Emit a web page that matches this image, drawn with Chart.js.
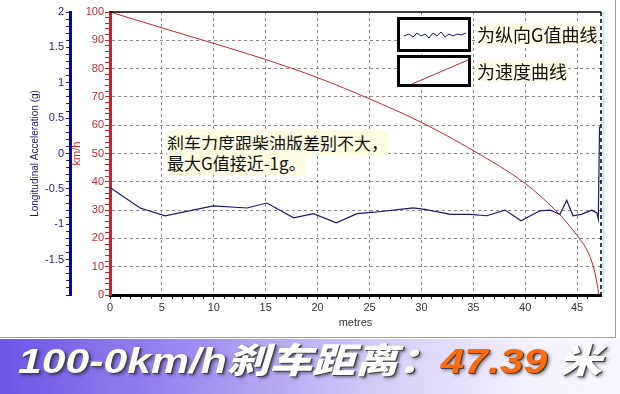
<!DOCTYPE html>
<html>
<head>
<meta charset="utf-8">
<script src="https://cdn.jsdelivr.net/npm/chart.js@4"></script>
<style>
body { margin: 0; background: #fff; width: 620px; height: 394px; overflow: hidden; position: relative; font-family: "Liberation Sans", Arial, sans-serif; }
#wrap { position: absolute; left: 0; top: 0; width: 620px; height: 338px; }
#frame { position: absolute; left: 0; top: 0; width: 615px; height: 337px; border-right: 1px solid #a0a0a0; border-bottom: 1px solid #a0a0a0; pointer-events: none; }
.box { position: absolute; left: 397px; width: 68px; border: 3px solid #000; background: #fff; }
.box svg { display: block; }
.lgtext { position: absolute; left: 477px; font: 18px "Noto Sans CJK SC", sans-serif; line-height: 22px; color: #111; background: #fffbe4; }
#note { position: absolute; left: 167px; top: 133px; font: 17px "Noto Sans CJK SC", sans-serif; line-height: 20px; color: #111; }
#note span { background: #fdfbe2; }
#banner { position: absolute; left: 0; top: 339px; width: 620px; height: 55px; background: linear-gradient(to right, #6d55e6 0%, #9d8af0 30%, #d2cbf8 60%, #f3f1fe 85%, #f8f7ff 100%); overflow: hidden; }
#banner .t { position: absolute; left: 18px; top: -7px; line-height: 50px; white-space: nowrap; font: italic 900 35px "Liberation Sans", "Noto Sans CJK SC", sans-serif; color: #fff; text-shadow: 1px 1px 0 #444, 2px 2px 3px rgba(0,0,0,0.5); transform: scaleX(1.22); transform-origin: left center; }
#banner .num { color: #ff6a0a; }
</style>
</head>
<body>
<div id="wrap"><canvas id="brakeChart" width="620" height="338"></canvas></div>
<div id="frame"></div>

<div class="box" style="top:17px;height:29px;">
  <svg width="68" height="29"><polyline fill="none" stroke="#1a1a70" stroke-width="1" points="4,16 9,14 13,17 17,13 21,16 25,14 29,18 33,13 37,16 41,12 45,17 49,14 53,16 57,14 61,15 66,13"/></svg>
</div>
<div class="lgtext" style="top:23px;">为纵向G值曲线</div>
<div class="box" style="top:55px;height:26px;">
  <svg width="68" height="26"><line x1="12" y1="26" x2="68" y2="2" stroke="#c8262e" stroke-width="1"/></svg>
</div>
<div class="lgtext" style="top:60px;">为速度曲线</div>

<div id="note"><span>刹车力度跟柴油版差别不大，</span><br><span>最大G值接近-1g。</span></div>

<div id="banner"><span class="t">100-0km/h刹车距离：<span class="num">47.39</span> 米</span></div>

<script>
// longitudinal G trace (distance in metres, value in g)
const gDistance = [0, 2.9, 5.3, 9.95, 13.2, 15.1, 17.7, 19.6, 21.8, 23.8, 25.4, 27.3, 29.2, 30.35, 32.8, 34.7, 36.3, 38.05, 39.6, 41.4, 42.4, 43.35, 44.0, 44.6, 45.4, 46.4, 46.9, 47.04, 47.16];
const gValues = [-0.48, -0.77, -0.88, -0.74, -0.77, -0.70, -0.91, -0.85, -0.98, -0.85, -0.83, -0.80, -0.77, -0.79, -0.86, -0.86, -0.88, -0.80, -0.95, -0.81, -0.80, -0.86, -0.66, -0.88, -0.86, -0.80, -0.84, -0.93, 0.38];

// speed trace (distance in metres, km/h)
const speedDistance = [0, 5, 10, 15, 20, 25, 30, 35, 40, 42.9, 44, 45, 46, 46.56, 46.9, 47.1];
const speedValues = [100, 94.4, 88.9, 83.2, 76.8, 69.3, 61.0, 51.0, 39.4, 30, 25.6, 21, 15.5, 10, 4.5, 0];

const xMax = 47.3;

const isHalf = v => Math.abs(v * 2 - Math.round(v * 2)) < 1e-6;
const isMult = (v, n) => Math.abs(v / n - Math.round(v / n)) < 1e-6;

const gridGray = '#8c8c8c';
const clear = 'rgba(0,0,0,0)';
const red = '#c0282e';
const navy = '#1c1c78';

// top border + dashed right edge like the original plot
const framePlugin = {
    id: 'frame',
    afterDraw(chart) {
        const { ctx, chartArea: a } = chart;
        ctx.save();
        ctx.strokeStyle = '#000';
        ctx.lineWidth = 1.5;
        ctx.beginPath();
        ctx.moveTo(a.left, a.top);
        ctx.lineTo(a.right, a.top);
        ctx.stroke();
        ctx.setLineDash([4, 3]);
        ctx.beginPath();
        ctx.moveTo(a.right, a.top);
        ctx.lineTo(a.right, a.bottom);
        ctx.stroke();
        ctx.setLineDash([]);
        ctx.strokeStyle = '#bdeff4';
        ctx.lineWidth = 2;
        ctx.beginPath();
        ctx.moveTo(a.right + 2.5, a.top);
        ctx.lineTo(a.right + 2.5, a.bottom);
        ctx.stroke();
        ctx.restore();
    }
};

const ctx = document.getElementById('brakeChart').getContext('2d');
new Chart(ctx, {
    type: 'line',
    data: {
        datasets: [{
            label: 'G',
            data: gDistance.map((d, i) => ({ x: d, y: gValues[i] })),
            yAxisID: 'g',
            borderColor: '#1a1a70',
            borderWidth: 1.2,
            pointRadius: 0,
            tension: 0
        }, {
            label: 'speed',
            data: speedDistance.map((d, i) => ({ x: d, y: speedValues[i] })),
            yAxisID: 'v',
            borderColor: '#c8262e',
            borderWidth: 1,
            pointRadius: 0,
            cubicInterpolationMode: 'monotone'
        }]
    },
    options: {
        responsive: false,
        animation: false,
        layout: { padding: { left: 0, right: 19, top: 12, bottom: 0 } },
        plugins: { legend: { display: false }, tooltip: { enabled: false } },
        scales: {
            x: {
                type: 'linear',
                position: 'bottom',
                min: 0,
                max: xMax,
                ticks: {
                    stepSize: 1,
                    autoSkip: false,
                    maxRotation: 0,
                    color: '#333',
                    font: { size: 11 },
                    padding: 2,
                    callback: v => isMult(v, 5) ? Math.round(v) : ''
                },
                grid: {
                    color: c => (c.tick && isMult(c.tick.value, 5) && c.tick.value > 0) ? gridGray : clear,
                    tickColor: c => (c.tick && c.tick.value < xMax) ? '#222' : clear,
                    tickLength: 4,
                    tickBorderDash: []
                },
                border: { color: '#000', width: 3, dash: [3, 3] },
                title: { display: true, text: 'metres', color: '#333', font: { size: 11 }, padding: { top: 0, bottom: 8 } },
                afterFit: s => { s.height = 43; }
            },
            v: {
                position: 'left',
                weight: 0,
                min: 0,
                max: 100,
                ticks: {
                    stepSize: 2,
                    autoSkip: false,
                    color: red,
                    font: { size: 11 },
                    padding: 1,
                    callback: v => isMult(v, 10) ? v : ''
                },
                grid: {
                    color: c => (c.tick && isMult(c.tick.value, 10) && c.tick.value > 0 && c.tick.value < 100) ? gridGray : clear,
                    tickColor: red,
                    tickLength: 5,
                    tickBorderDash: []
                },
                border: { color: red, width: 3, dash: [3, 3] },
                title: { display: true, text: 'km/h', color: red, font: { size: 11 }, padding: 0 },
                afterFit: s => { s.width = 40; }
            },
            g: {
                position: 'left',
                weight: 1,
                min: -2,
                max: 2,
                ticks: {
                    stepSize: 0.1,
                    autoSkip: false,
                    color: navy,
                    font: { size: 11 },
                    padding: 2,
                    callback: v => (isHalf(v) && v > -1.99) ? String(+v.toFixed(1)) : ''
                },
                grid: {
                    drawOnChartArea: false,
                    tickColor: navy,
                    tickLength: 4,
                    tickBorderDash: []
                },
                border: { color: '#0a0a9a', width: 3 },
                title: { display: true, text: 'Longitudinal Acceleration (g)', color: navy, font: { size: 10 }, padding: 29 },
                afterFit: s => { s.width = 70; }
            }
        }
    },
    plugins: [framePlugin]
});
</script>
</body>
</html>
